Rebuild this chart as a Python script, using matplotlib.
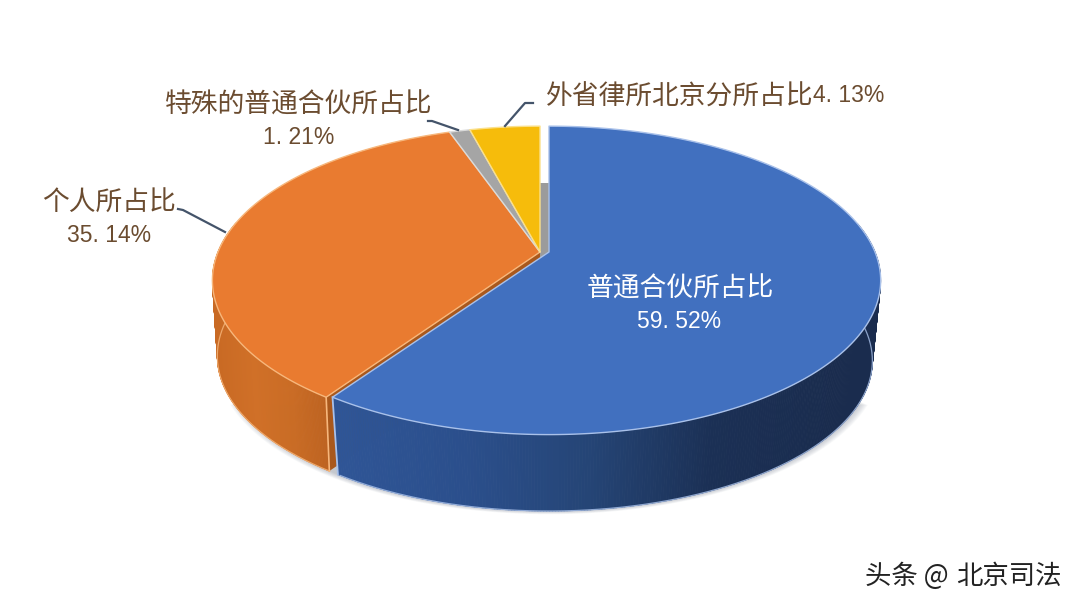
import numpy as np
import matplotlib
matplotlib.use("Agg")
import matplotlib.pyplot as plt
from matplotlib.collections import PolyCollection
from matplotlib.colors import LinearSegmentedColormap
from matplotlib.patches import Polygon

plt.rcParams["font.family"] = ["Noto Sans CJK SC", "DejaVu Sans"]

# %% data
names = ["普通合伙所占比", "个人所占比", "特殊的普通合伙所占比", "外省律所北京分所占比"]
shares = [59.52, 35.14, 1.21, 4.13]
share_labels = ["59. 52%", "35. 14%", "1. 21%", "4. 13%"]

# %% look
top_colors = ["#4170BF", "#E97B30", "#A5A5A5", "#F6BC0B"]
rim_colors = ["#A9C1EA", "#F7B77C", "#DADADA", "#FBE08A"]
wall_maps = [
    LinearSegmentedColormap.from_list("b", ["#2F5596", "#2B4F8C", "#254576", "#1B3055", "#1A2C4E"]),
    LinearSegmentedColormap.from_list("o", ["#C96A24", "#D07028", "#CA6C25", "#BC6220"]),
]
text_color = "#6B4C30"
line_color = "#44546A"
num_font = ["Liberation Sans", "DejaVu Sans"]

# slice geometry, pixels
RY = 149.0
K = 0.184
DEPTHS = [81.0, 76.0, 76.0, 76.0]
BOTTOM_SCALE = [0.975, 0.985, 0.985, 0.985]
APEX_Y = 252.0
centers = [549.0, 540.0, 540.0, 540.0]
radii = [326.0, 322.0, 322.0, 322.0]


def top_xy(theta, cx, r):
    # clockwise from 12 o'clock, with a bit of perspective
    s = 1.0 / (1.0 + K * np.cos(theta))
    return cx + r * np.sin(theta) * s, APEX_Y - RY * np.cos(theta) * s


def bottom_xy(theta, i):
    x, y = top_xy(theta, centers[i], radii[i])
    scale = BOTTOM_SCALE[i]
    return centers[i] + (x - centers[i]) * scale, APEX_Y + DEPTHS[i] + (y - APEX_Y) * scale


edges = np.deg2rad(np.concatenate([[0], np.cumsum(shares)]) * 3.6)

fig = plt.figure(figsize=(10.8, 6.08), dpi=100)
ax = fig.add_axes([0, 0, 1, 1])
ax.set_xlim(0, 1080)
ax.set_ylim(608, 0)
ax.axis("off")

# %% soft shadow under the left and front, kept below the rim
t = np.linspace(np.pi / 2 + 0.45, 3 * np.pi / 2 - 0.45, 200)
bx, by = bottom_xy(t, 0)
for grow in np.linspace(8, 0, 9):
    ax.add_patch(Polygon(np.c_[545 + (bx - 545) * (1 + grow / 330), by + grow * 0.4],
                         fc="#4A5568", ec="none", alpha=0.04, zorder=1))


def draw_wall(i, z):
    th = np.linspace(edges[i], edges[i + 1], 500)
    keep = np.cos(th[:-1]) < 0.2
    x0, y0 = top_xy(th, centers[i], radii[i])
    x1, y1 = bottom_xy(th, i)
    quads = [[(x0[j], y0[j]), (x0[j + 1], y0[j + 1]), (x1[j + 1], y1[j + 1]), (x1[j], y1[j])]
             for j in range(len(th) - 1) if keep[j]]
    if i == 0:
        pos = (x0[:-1] - 340) / 500
    else:
        pos = (x0[:-1] - 215) / 115
    cols = wall_maps[i](np.clip(pos[keep], 0, 1))
    ax.add_collection(PolyCollection(quads, facecolors=cols, edgecolors=cols, linewidths=0.6, zorder=z))
    ax.plot(x1[:-1][keep], y1[:-1][keep], color=rim_colors[i], lw=0.9, alpha=0.8, zorder=z + 0.1)


# %% orange wall, its cut face, then the blue wall over it
draw_wall(1, 2)
cx = centers[1]
cx_o, cy_o = top_xy(edges[1], cx, radii[1])
bx_o, by_o = bottom_xy(edges[1], 1)
ax.add_patch(Polygon([(cx, APEX_Y), (cx_o, cy_o), (bx_o, by_o), (cx, APEX_Y + DEPTHS[1])],
                     fc="#A9581C", ec="none", zorder=2.5))
ax.plot([cx_o, bx_o], [cy_o, by_o], color=rim_colors[1], lw=1.2, zorder=2.6)
draw_wall(0, 3)

bc_x, bc_y = top_xy(edges[1], centers[0], radii[0])
bd_x, bd_y = bottom_xy(edges[1], 0)
ax.plot([bc_x, bd_x], [bc_y, bd_y], color=rim_colors[0], lw=1.3, zorder=3.5)

# grey face seen in the gap behind the blue slice
ax.add_patch(Polygon([(centers[3], APEX_Y - 69), (centers[0], APEX_Y - 69),
                      (centers[0], APEX_Y), (centers[3], APEX_Y + 6)],
                     fc="#9B9B9B", ec="none", zorder=3))

# %% top faces
for i in [1, 2, 3, 0]:
    th = np.linspace(edges[i], edges[i + 1], 300)
    x, y = top_xy(th, centers[i], radii[i])
    pts = np.r_[[[centers[i], APEX_Y]], np.c_[x, y]]
    ax.add_patch(Polygon(pts, closed=True, fc=top_colors[i], ec=rim_colors[i], lw=1.0,
                         joinstyle="round", zorder=5))

# %% leader lines
ax.plot([178, 183, 225], [209, 210, 232], color=line_color, lw=1.6, zorder=7)
ax.plot([428, 432, 458], [121, 121, 130], color=line_color, lw=1.6, zorder=7)
ax.plot([533, 525, 505], [103, 103, 126], color=line_color, lw=1.6, zorder=7)

# %% labels
fs = 19.3
num = 16.5
ax.text(680, 289, names[0], color="white", fontsize=fs, ha="center", va="center", zorder=8)
ax.text(679, 322, share_labels[0], color="white", fontsize=num, family=num_font, ha="center", va="center", zorder=8)
ax.text(109, 202, names[1], color=text_color, fontsize=fs, ha="center", va="center", zorder=8)
ax.text(109, 236, share_labels[1], color=text_color, fontsize=num, family=num_font, ha="center", va="center", zorder=8)
ax.text(299, 105, names[2], color=text_color, fontsize=fs, ha="center", va="center", zorder=8)
ax.text(299, 138, share_labels[2], color=text_color, fontsize=num, family=num_font, ha="center", va="center", zorder=8)
ax.text(546, 97, names[3], color=text_color, fontsize=fs, ha="left", va="center", zorder=8)
ax.text(813, 95, share_labels[3], color=text_color, fontsize=num, family=num_font, ha="left", va="center", zorder=8)

ax.text(865, 576, "头条 @", color="#222222", fontsize=19, ha="left", va="center", zorder=8)
ax.text(1062, 576, "北京司法", color="#222222", fontsize=19, ha="right", va="center", zorder=8)

fig.savefig("out.png", dpi=100)
